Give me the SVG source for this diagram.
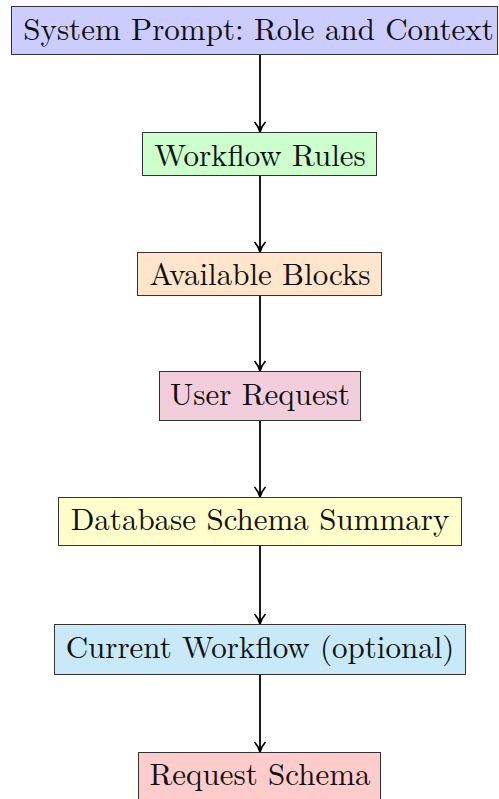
<svg xmlns="http://www.w3.org/2000/svg" width="499" height="799" viewBox="0 0 499 799">
  <defs>
    <style>
      .box { stroke: #333; stroke-width: 1; }
      .lbl { font-family: "Latin Modern Roman", "Liberation Serif", "Times New Roman", serif; font-size: 31px; fill: #111; text-anchor: middle; }
      .edge { stroke: #000; stroke-width: 1.8; fill: none; marker-end: url(#tip); }
    </style>
    <marker id="tip" viewBox="0 0 14 14" refX="12" refY="7" markerWidth="14" markerHeight="14" markerUnits="userSpaceOnUse" orient="auto">
      <path d="M2,1.5 Q7,6 12,7 Q7,8 2,12.5" fill="none" stroke="#000" stroke-width="1.7"/>
    </marker>
  </defs>
  <rect width="499" height="799" fill="#fff"/>

  <g id="connectors">
    <line class="edge" x1="260" y1="55" x2="260" y2="132"/>
    <line class="edge" x1="260" y1="176" x2="260" y2="252"/>
    <line class="edge" x1="260" y1="296" x2="260" y2="371"/>
    <line class="edge" x1="260" y1="421" x2="260" y2="497"/>
    <line class="edge" x1="260" y1="546" x2="260" y2="624"/>
    <line class="edge" x1="260" y1="675" x2="260" y2="752"/>
  </g>

  <g id="system-prompt">
    <rect class="box" x="11.5" y="6.5" width="486" height="48" fill="#ccccff"/>
    <text class="lbl" x="258.5" y="40">System Prompt: Role and Context</text>
  </g>
  <g id="workflow-rules">
    <rect class="box" x="142.5" y="132.5" width="234" height="43" fill="#ccffcc"/>
    <text class="lbl" x="260" y="166">Workflow Rules</text>
  </g>
  <g id="available-blocks">
    <rect class="box" x="137.5" y="252.5" width="244" height="43" fill="#ffe5cc"/>
    <text class="lbl" x="260" y="285">Available Blocks</text>
  </g>
  <g id="user-request">
    <rect class="box" x="159.5" y="371.5" width="201" height="49" fill="#f2cddc"/>
    <text class="lbl" x="260" y="405">User Request</text>
  </g>
  <g id="database-schema">
    <rect class="box" x="58.5" y="497.5" width="403" height="48" fill="#ffffcc"/>
    <text class="lbl" x="260" y="530">Database Schema Summary</text>
  </g>
  <g id="current-workflow">
    <rect class="box" x="54.5" y="624.5" width="411" height="50" fill="#c8e9f8"/>
    <text class="lbl" x="260" y="658">Current Workflow (optional)</text>
  </g>
  <g id="request-schema">
    <rect class="box" x="138.5" y="752.5" width="242" height="50" fill="#ffcccc"/>
    <text class="lbl" x="260" y="785">Request Schema</text>
  </g>
</svg>
